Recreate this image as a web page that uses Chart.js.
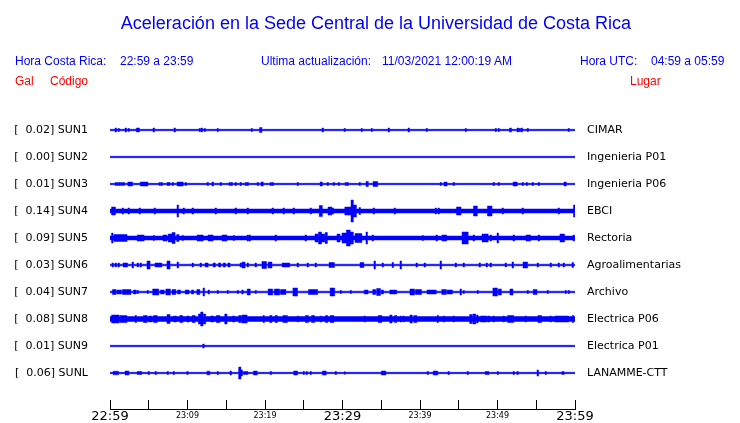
<!DOCTYPE html>
<html>
<head>
<meta charset="utf-8">
<script src="https://cdn.jsdelivr.net/npm/chart.js@4/dist/chart.umd.min.js"></script>
<style>
  body { margin: 0; background: #fff; }
  #wrap { position: relative; width: 740px; height: 423px; overflow: hidden; }
  canvas { position: absolute; left: 0; top: 0; }
  .txt { position: absolute; font: 12px "Liberation Sans", Arial, sans-serif; line-height: 14px; white-space: pre; color: #0000ff; }
  .red { color: #ff0000; }
  #title { left: 0; width: 752px; top: 12px; text-align: center; font-size: 18px; line-height: 22px; }
</style>
</head>
<body>
<div id="wrap">
  <canvas id="chart" width="740" height="423"></canvas>
  <div class="txt" id="title">Aceleración en la Sede Central de la Universidad de Costa Rica</div>
  <div class="txt" style="left:15px;top:54px">Hora Costa Rica:</div>
  <div class="txt" style="left:120px;top:54px">22:59 a 23:59</div>
  <div class="txt" style="left:261px;top:54px">Ultima actualización:</div>
  <div class="txt" style="left:382px;top:54px">11/03/2021 12:00:19 AM</div>
  <div class="txt" style="left:580px;top:54px">Hora UTC:</div>
  <div class="txt" style="left:651px;top:54px">04:59 a 05:59</div>
  <div class="txt red" style="left:15px;top:74px">Gal</div>
  <div class="txt red" style="left:50px;top:74px">Código</div>
  <div class="txt red" style="left:630px;top:74px">Lugar</div>
</div>
<script>
// stations, top to bottom
const codes = ['SUN1', 'SUN2', 'SUN3', 'SUN4', 'SUN5', 'SUN6', 'SUN7', 'SUN8', 'SUN9', 'SUNL'];
const peaks = ['0.02', '0.00', '0.01', '0.14', '0.09', '0.03', '0.04', '0.08', '0.01', '0.06'];
const places = ['CIMAR', 'Ingenieria P01', 'Ingenieria P06', 'EBCI', 'Rectoria', 'Agroalimentarias',
    'Archivo', 'Electrica P06', 'Electrica P01', 'LANAMME-CTT'];
const timeLabels = ['22:59', '23:09', '23:19', '23:29', '23:39', '23:49', '23:59'];
const majorTimes = [0, 30, 60];

// background noise level of each trace
const floors = [0.7, 0.7, 0.7, 2, 2, 0.8, 0.8, 2.5, 0.7, 0.7];

// bursts: [minutes after 22:59, duration (min), half amplitude]
const sun1Bursts = [[0.65,.2,2],[1.03,.2,1.5],[1.94,.2,2],[2.32,.2,1.5],[3.4,.4,2],[5.55,.2,2],[8.26,.2,2],
    [11.48,.2,1.5],[11.74,.2,2],[12.13,.2,1.5],[13.81,.2,1.5],[18.19,.2,1.5],[19.3,.3,2.5],[27.35,.2,2],
    [30.19,.2,1.5],[32.39,.2,1.5],[33.68,.2,1.5],[35.87,.2,2],[38.45,.2,2],[40.77,.2,1.5],[45.81,.2,1.5],
    [49.68,.2,1.5],[50.06,.2,1.5],[51.55,.25,2],[52.52,.2,2],[52.77,.2,1.5],[53.03,.2,2],[53.81,.2,1.5],[59.1,.2,1.5]];
const sun2Bursts = [];
const sun3Bursts = [[0.65,.2,1.5],[0.9,.2,1.5],[1.16,.2,1.5],[1.42,.2,1.5],[1.68,.2,1.5],[2.3,.6,2],[3.9,1,2],
    [6.32,.2,1.5],[6.58,.2,1.5],[7.35,.4,1.5],[8.0,.2,1.5],[8.65,.8,2],[9.68,.2,1.5],[12.52,.2,1.5],[13.16,.2,2],
    [14.19,.2,1.5],[15.35,.2,1.5],[15.61,.2,1.5],[16.13,.2,1.5],[16.77,.2,1.5],[17.42,.2,1.5],[17.68,.2,1.5],
    [18.97,.2,1.5],[19.48,.3,2],[20.65,.2,1.5],[20.9,.2,1.5],[24.13,.2,1.5],[27.1,.3,2],[28.0,.2,1.5],
    [28.77,.2,1.5],[29.42,.2,1.5],[30.32,.2,1.5],[30.58,.2,1.5],[32.13,.2,1.5],[33.03,.3,2.5],[33.94,.6,2.5],
    [42.58,.2,1.5],[43.1,.4,2],[44.26,.2,1.5],[49.42,.2,1.5],[50.06,.2,1.5],[52.0,.55,2],[53.16,.2,1.5],
    [53.68,.2,1.5],[54.45,.2,1.5],[55.23,.2,1.5],[58.58,.3,2]];
const sun4Bursts = [[0.2,.5,4],[1.55,.2,3],[2.32,.2,3],[3.74,.2,3],[5.68,.2,3],[8.65,.2,6],[9.42,.2,3],
    [10.58,.2,3],[13.55,.2,3],[16.13,.2,3],[17.68,.2,3],[20.9,.2,3],[22.32,.2,3],[23.61,.2,3],[25.81,.2,3],
    [27.0,.4,5.5],[28.13,.5,4],[28.65,.2,3],[30.3,.8,4],[31.1,.3,11],[31.4,.4,6],[32.13,.2,3.5],[33.94,.2,3],
    [36.65,.2,3],[41.94,.2,3],[42.32,.2,3],[44.7,.6,4],[46.9,.5,5],[48.7,.6,5],[50.58,.2,3],[53.16,.2,3],
    [57.81,.2,3],[59.8,.2,6]];
const sun5Bursts = [[0.2,.2,5],[0.5,1.7,3.5],[3.5,.9,3],[5.55,.2,2.5],[6.84,.5,3],[7.5,.5,4],[8.0,.4,5.5],
    [8.6,.3,3.5],[9.29,.2,2.5],[11.23,.8,3],[12.65,.65,3],[14.45,.65,3],[15.87,.2,2.5],[17.68,.2,3],[17.94,.2,3],
    [21.29,.2,3],[25.16,.2,3],[26.45,.4,4],[26.9,.4,6],[27.3,.4,4],[27.75,.3,5.5],[29.29,.4,4],[29.94,.55,5],
    [30.5,.5,8],[31.0,.4,6],[31.61,.9,4.5],[33.03,.2,6],[33.81,.2,3],[40.26,.2,2.5],[42.06,.2,3],[42.84,.6,3],
    [45.42,.8,6],[46.84,.2,3],[48.0,.8,4],[49.03,.2,3],[49.94,.2,5],[52.0,.2,3],[53.68,.6,3],[55.23,.2,3],
    [58.06,.6,4],[59.74,.2,3]];
const sun6Bursts = [[0.26,.2,2],[0.65,.2,2],[1.03,.2,2],[1.68,.6,2],[2.84,.2,3],[3.48,.2,2],[3.87,.2,2],
    [4.77,.4,4],[5.8,.9,2],[7.35,.4,4],[8.65,.2,3],[10.58,.2,2],[11.61,.2,2],[12.26,.4,2],[13.3,.3,2],[14.0,.3,2],
    [14.6,.3,2],[15.2,.3,2],[16.77,.2,2],[17.03,.4,3],[17.68,.2,2],[18.71,.2,2],[19.6,.6,3.5],[20.4,.5,3],
    [22.2,1,2],[24.13,.2,2],[25.42,.2,2],[26.45,.2,2],[28.26,.7,2.5],[32.26,.5,2.5],[34.06,.2,4],[35.1,.2,2],
    [36.39,.2,2.5],[37.42,.2,4],[39.48,.2,2],[40.52,.2,2],[42.58,.2,4],[44.52,.2,2],[45.55,.2,2],[47.61,.2,2],
    [48.52,.2,2],[49.03,.2,2],[50.97,.2,2],[51.87,.2,3],[53.29,.6,3],[55.1,.2,2],[56.77,.2,2],[57.81,.2,2],
    [58.45,.2,2],[59.61,.2,2.5]];
const sun7Bursts = [[0.3,.5,2.5],[0.9,.6,2],[1.6,1.1,2.5],[3.0,.4,2],[3.5,.2,1.5],[4.77,.2,1.5],[5.5,.8,3],
    [6.5,.5,2],[7.2,.6,3],[8.0,.5,2.5],[8.7,.4,2],[9.7,.5,2],[10.5,.3,2],[11.2,.4,2.5],[12.0,.2,4],[12.65,.2,2],
    [13.81,.2,1.5],[15.1,.2,1.5],[16.4,.2,1.5],[17.0,.2,2],[17.7,.4,3],[18.71,.2,1.5],[20.4,.6,3],[21.2,.7,3],
    [22.0,.7,2.5],[23.6,.6,4],[25.6,1.2,2.5],[28.4,.6,4],[29.68,.2,1.5],[30.97,.2,1.5],[32.8,.5,2],[33.9,.4,2.5],
    [34.4,.5,3.5],[35.0,.3,2],[36.1,.9,2],[38.7,.6,3],[39.4,.8,2.5],[40.9,1.2,2],[42.8,.6,2.5],[43.5,.7,2],
    [45.16,.2,3],[45.55,.2,1.5],[47.35,.2,1.5],[49.4,.6,4],[50.1,.4,3],[51.6,.4,3],[53.81,.2,1.5],[54.6,.5,2.5],
    [56.39,.2,1.5],[58.71,.2,1.5],[59.1,.2,1.5]];
const sun8Bursts = [[0.2,1,4],[1.3,.9,3.5],[3.23,.2,3.5],[4.3,.5,3.5],[5.0,.4,3],[5.6,.5,3.5],[7.35,.4,4.5],
    [8.2,.4,3],[9.0,.4,3.5],[9.9,.3,3],[10.6,.4,3.5],[11.4,.3,5],[11.7,.3,7],[12.05,.3,5],[13.0,.4,3],
    [13.7,.5,3.5],[14.8,.3,5],[15.8,.3,3],[16.6,.3,3.5],[17.0,.7,4],[19.74,.2,3.5],[20.6,.3,3.5],[21.3,.3,3.5],
    [22.3,.6,3.5],[24.13,.2,3],[25.2,.4,3.5],[26.0,.4,3.5],[27.1,.2,3],[27.8,.3,3.5],[28.4,.5,3.5],[32.77,.2,3],
    [34.6,.5,3.5],[36.1,.3,4],[36.7,.3,3.5],[37.42,.2,3],[37.8,.2,3],[38.7,.3,4],[39.2,.4,3.5],[42.19,.2,3.5],
    [43.0,.2,3],[44.26,.2,3],[46.4,.3,4.5],[46.8,.4,5],[47.3,.2,4],[47.8,.8,3],[48.7,.3,3],[49.42,.2,3],
    [50.7,.2,3],[51.3,.8,3.5],[53.55,.2,3],[55.2,.5,3.5],[56.77,.2,3],[57.4,1.8,3],[59.65,.2,3.5]];
const sun9Bursts = [[11.96,.2,2]];
const sunlBursts = [[0.4,.7,1.8],[1.94,.5,2],[3.5,.6,1.5],[4.9,.2,1.5],[5.8,.2,1.5],[7.35,.2,1.5],[8.13,.2,1.5],
    [9.9,.2,1.5],[12.5,.4,1.8],[13.81,.2,1.5],[15.48,.2,2],[16.6,.3,6],[16.9,.2,3],[17.2,.6,1.5],[18.5,.5,2],
    [20.65,.2,1.5],[23.7,.5,2],[24.9,.2,1.5],[25.29,.2,1.5],[25.81,.2,1.5],[27.4,.5,2],[29.03,.2,1.5],
    [30.19,.2,1.2],[35.0,.6,2],[40.9,.2,1.5],[41.7,.6,2],[43.6,.2,1.5],[46.06,.2,1.5],[48.4,.5,1.5],
    [49.94,.2,1.5],[52.0,.2,1.5],[52.5,.2,1.5],[55.1,.2,3],[56.13,.2,1.5],[58.3,.3,1.5]];

const bursts = [sun1Bursts, sun2Bursts, sun3Bursts, sun4Bursts, sun5Bursts,
    sun6Bursts, sun7Bursts, sun8Bursts, sun9Bursts, sunlBursts];

const traceColor = '#0000ff';
const ampScale = 1 / 27;   // amplitude units per trace spacing

// step envelope: amplitude held from each point until the next one
function envelope(list, floor) {
    const sorted = list.slice().sort((a, b) => a[0] - b[0]);
    const pts = [{ x: 0, a: floor }];
    sorted.forEach((b, k) => {
        const next = sorted[k + 1];
        let end = Math.min(b[0] + b[1], 60);
        if (next && next[0] < end) end = next[0];
        pts.push({ x: b[0], a: b[2] });
        if (!next || next[0] > end) pts.push({ x: end, a: floor });
    });
    pts.push({ x: 60, a: floor });
    return pts;
}

const datasets = [];
codes.forEach((code, i) => {
    const pts = envelope(bursts[i], floors[i]);
    const common = {
        borderColor: traceColor,
        backgroundColor: traceColor,
        borderWidth: 0.5,
        pointRadius: 0,
        stepped: true,
        yAxisID: 'y'
    };
    datasets.push(Object.assign({}, common, {
        label: code,
        data: pts.map(p => ({ x: p.x, y: i - p.a * ampScale })),
        fill: '+1'
    }));
    datasets.push(Object.assign({}, common, {
        label: code + ' low',
        data: pts.map(p => ({ x: p.x, y: i + p.a * ampScale })),
        fill: false
    }));
});

const stationTicks = s => { s.ticks = codes.map((c, i) => ({ value: i })); };
// fixed side widths; no extra vertical room for the station labels
const sideFit = w => s => { s.width = w; s.paddingTop = 0; s.paddingBottom = 0; };

new Chart(document.getElementById('chart'), {
    type: 'line',
    data: { datasets },
    options: {
        responsive: false,
        animation: false,
        devicePixelRatio: 1,
        events: [],
        layout: { padding: { top: 103, left: 0, right: 0, bottom: 0 } },
        plugins: { legend: { display: false }, tooltip: { enabled: false } },
        scales: {
            x: {
                type: 'linear',
                min: 0,
                max: 60,
                position: 'bottom',
                afterFit: s => { s.height = 14; s.paddingLeft = 0; s.paddingRight = 0; },
                ticks: {
                    stepSize: 5,
                    autoSkip: false,
                    maxRotation: 0,
                    padding: 9,
                    color: '#000',
                    font: ctx => (majorTimes.includes(ctx.tick && ctx.tick.value)
                        ? { family: '"DejaVu Sans", sans-serif', size: 13 }
                        : { family: '"DejaVu Sans", sans-serif', size: 8, lineHeight: 1.8 }),
                    callback: v => (v % 10 === 0 ? timeLabels[v / 10] : '')
                },
                grid: { drawOnChartArea: false, drawTicks: true, tickLength: -9, color: '#000', lineWidth: 1 },
                border: { display: true, color: '#000', width: 1 }
            },
            y: {
                type: 'linear',
                min: -1,
                max: 10.3333,
                reverse: true,
                position: 'left',
                afterFit: sideFit(110),
                afterBuildTicks: stationTicks,
                ticks: {
                    padding: 22,
                    color: '#000',
                    font: { family: '"DejaVu Sans", sans-serif', size: 11 },
                    callback: v => '[  ' + peaks[Math.round(v)] + '] ' + codes[Math.round(v)]
                },
                grid: { display: false, drawTicks: false },
                border: { display: false }
            },
            yr: {
                type: 'linear',
                min: -1,
                max: 10.3333,
                reverse: true,
                position: 'right',
                afterFit: sideFit(165),
                afterBuildTicks: stationTicks,
                ticks: {
                    padding: 12,
                    color: '#000',
                    font: { family: '"DejaVu Sans", sans-serif', size: 11 },
                    callback: v => places[Math.round(v)]
                },
                grid: { display: false, drawTicks: false },
                border: { display: false }
            }
        }
    }
});
</script>
</body>
</html>
